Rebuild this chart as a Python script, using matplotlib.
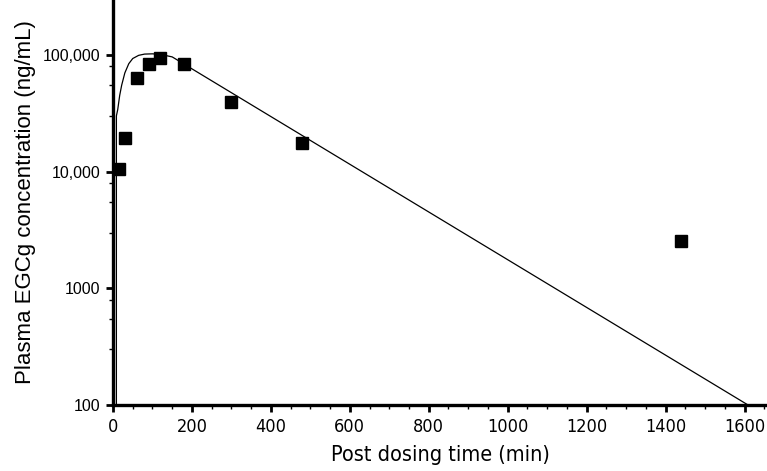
import os
import matplotlib
matplotlib.use('Agg')
import matplotlib.pyplot as plt
from matplotlib import font_manager
from matplotlib.font_manager import FontProperties
from matplotlib.ticker import LogLocator, FixedLocator, MultipleLocator, FuncFormatter

# observed plasma levels
time_min = [15, 30, 60, 90, 120, 180, 300, 480, 1440]
conc = [10500, 19300, 63900, 83200, 93700, 83200, 39500, 17700, 2530]

# fitted curve
fit_time = [8.6, 8.6, 12, 17, 22, 30, 40, 50, 65, 80, 100, 120, 150, 1609]
fit_conc = [100, 30000, 34000, 45000, 55000, 70000, 84000, 93000, 99000,
            101500, 102000, 101000, 96000, 100]

ytick_vals = [100, 1000, 10000, 100000]
ytick_labels = ['100', '1000', '10,000', '100,000']


# pick a narrow sans for the x axis, fall back step by step
def find_narrow():
    ranked = []
    for f in font_manager.fontManager.ttflist:
        base = os.path.basename(f.fname).lower()
        if f.style != 'normal' or 'bold' in base or 'italic' in base or 'light' in base \
                or 'medium' in base or 'black' in base or 'thin' in base:
            continue
        if 'liberationsansnarrow' in base:
            ranked.append((0, f.fname))
        elif 'notosans-condensed' in base or ('notosans' in base and 'condensed' in base
                                               and 'semi' not in base and 'extra' not in base
                                               and 'cjk' not in base and 'mono' not in base):
            ranked.append((1, f.fname))
        elif 'opensans' in base and 'condensed' in base and 'semi' not in base:
            ranked.append((2, f.fname))
        elif 'dejavusanscondensed.ttf' == base:
            ranked.append((3, f.fname))
    if ranked:
        ranked.sort()
        return ranked[0]
    return (9, None)


rank, narrow_file = find_narrow()
regular_file = font_manager.findfont(FontProperties(family='Liberation Sans'))
if narrow_file is None:
    narrow_file = regular_file

fig = plt.figure(figsize=(7.67, 4.71), dpi=100)
ax = fig.add_axes([113 / 767, 66 / 471, 1 - 113 / 767, 1 - 66 / 471])

ax.plot(fit_time, fit_conc, color='black', lw=0.9, zorder=2)
ax.plot(time_min, conc, 's', color='black', ms=8.5, zorder=3, clip_on=False)

ax.set_yscale('log')
ax.set_xlim(0, 1657)
ax.set_ylim(100, 295000)

ax.spines['top'].set_visible(False)
ax.spines['right'].set_visible(False)
ax.spines['left'].set_linewidth(2.4)
ax.spines['bottom'].set_linewidth(2.4)

ax.xaxis.set_major_locator(MultipleLocator(200))
ax.xaxis.set_minor_locator(MultipleLocator(50))
ax.yaxis.set_major_locator(FixedLocator(ytick_vals))
ax.yaxis.set_major_formatter(FuncFormatter(lambda v, p: ytick_labels[ytick_vals.index(v)] if v in ytick_vals else ''))
ax.yaxis.set_minor_locator(LogLocator(base=10, subs=[3, 5.5, 8]))
ax.yaxis.set_minor_formatter(FuncFormatter(lambda v, p: ''))

ax.tick_params(axis='both', which='major', direction='out', length=5, width=2, color='black')
ax.tick_params(axis='both', which='minor', direction='out', length=3, width=1, color='black')
ax.tick_params(axis='y', which='major', pad=4)
ax.tick_params(axis='x', which='major', pad=4)

# sizes a bit smaller when only a wide font was found
xt_size = 14.5 if rank <= 1 else 13
xl_size = 18 if rank <= 1 else 15.5

for lab in ax.get_xticklabels():
    lab.set_fontproperties(FontProperties(fname=narrow_file, size=xt_size))
for lab in ax.get_yticklabels():
    lab.set_fontproperties(FontProperties(fname=regular_file, size=11.5))

ax.set_xlabel('Post dosing time (min)', fontproperties=FontProperties(fname=narrow_file, size=xl_size), labelpad=7)
ax.set_ylabel('Plasma EGCg concentration (ng/mL)', fontproperties=FontProperties(fname=regular_file, size=16), labelpad=5)

fig.savefig('out.png', dpi=100)
